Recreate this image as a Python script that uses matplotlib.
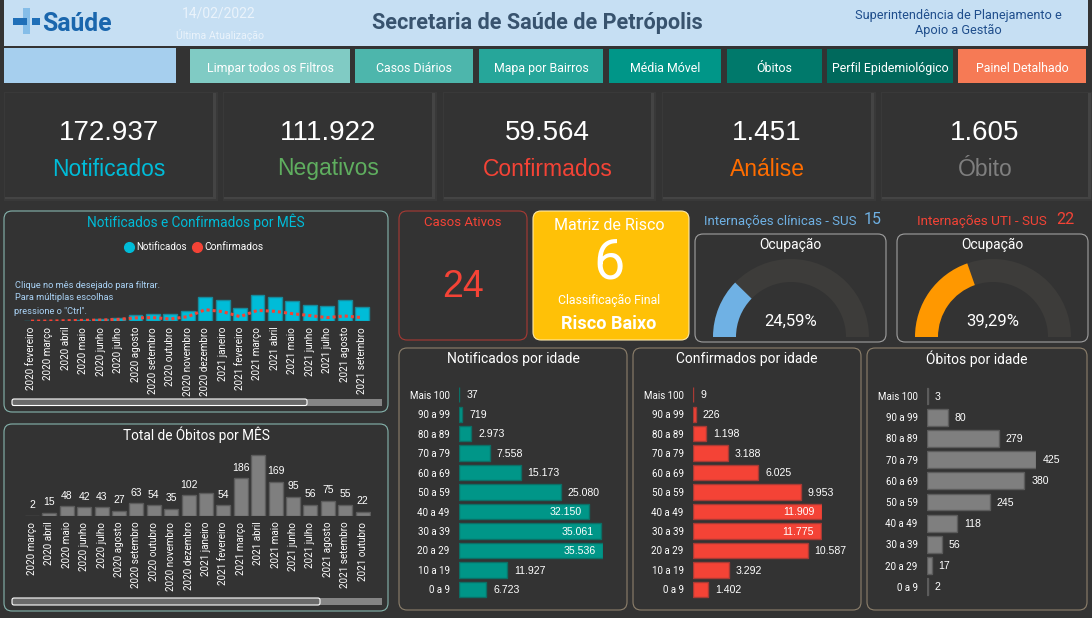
import matplotlib
matplotlib.use("Agg")
import matplotlib.pyplot as plt
from matplotlib.patches import FancyBboxPatch, Rectangle, Wedge

plt.rcParams['font.family'] = ['Roboto', 'DejaVu Sans']

W, H = 1092, 618
BG = '#333333'
ARIAL = ['Liberation Sans', 'DejaVu Sans']

# data
kpi_values = ['172.937', '111.922', '59.564', '1.451', '1.605']
kpi_names = ['Notificados', 'Negativos', 'Confirmados', 'Análise', 'Óbito']
kpi_colors = ['#00bcd8', '#5fae5f', '#f44336', '#ff6d00', '#7f7f7f']

button_labels = ['Limpar todos os Filtros', 'Casos Diários', 'Mapa por Bairros', 'Média Móvel',
                 'Óbitos', 'Perfil Epidemiológico', 'Painel Detalhado']

months_notif = ['2020 fevereiro', '2020 março', '2020 abril', '2020 maio', '2020 junho', '2020 julho',
                '2020 agosto', '2020 setembro', '2020 outubro', '2020 novembro', '2020 dezembro',
                '2021 janeiro', '2021 fevereiro', '2021 março', '2021 abril', '2021 maio', '2021 junho',
                '2021 julho', '2021 agosto', '2021 setembro']
notificados_mes = [100, 150, 500, 1200, 1500, 2400, 4600, 5400, 5100, 7300, 18000, 15600, 9500,
                   19300, 17600, 14600, 12200, 11000, 15400, 10500]
confirmados_mes = [100, 150, 400, 700, 900, 1400, 2500, 2700, 1700, 3400, 8500, 7100, 3400,
                   8000, 7300, 5600, 4200, 2700, 3900, 2700]

months_obitos = ['2020 março', '2020 abril', '2020 maio', '2020 junho', '2020 julho', '2020 agosto',
                 '2020 setembro', '2020 outubro', '2020 novembro', '2020 dezembro', '2021 janeiro',
                 '2021 fevereiro', '2021 março', '2021 abril', '2021 maio', '2021 junho', '2021 julho',
                 '2021 agosto', '2021 setembro', '2021 outubro']
obitos_mes = [2, 15, 48, 42, 43, 27, 63, 54, 35, 102, 113, 54, 186, 301, 169, 95, 56, 75, 55, 22]
obitos_hidden = ['2021 janeiro', '2021 abril']

idades = ['Mais 100', '90 a 99', '80 a 89', '70 a 79', '60 a 69', '50 a 59', '40 a 49', '30 a 39',
          '20 a 29', '10 a 19', '0 a 9']
notif_idade = [37, 719, 2973, 7558, 15173, 25080, 32150, 35061, 35536, 11927, 6723]
conf_idade = [9, 226, 1198, 3188, 6025, 9953, 11909, 11775, 10587, 3292, 1402]
idades_obito = ['Mais 100', '90 a 99', '80 a 89', '70 a 79', '60 a 69', '50 a 59', '40 a 49', '30 a 39',
                '20 a 29', '0 a 9']
obito_idade = [3, 80, 279, 425, 380, 245, 118, 56, 17, 2]

ocupacao_clinica = 24.59
ocupacao_uti = 39.29

fig = plt.figure(figsize=(W / 100, H / 100), dpi=100, facecolor=BG)
bg = fig.add_axes([0, 0, 1, 1])
bg.set_xlim(0, W)
bg.set_ylim(H, 0)
bg.axis('off')


def make_ax(x0, y0, x1, y1):  # axes from pixel box
    ax = fig.add_axes([x0 / W, 1 - y1 / H, (x1 - x0) / W, (y1 - y0) / H])
    ax.patch.set_alpha(0)
    for s in ax.spines.values():
        s.set_visible(False)
    return ax


def box(x0, y0, x1, y1, face='none', edge='none', r=8, lw=0.8, z=1):
    bg.add_patch(FancyBboxPatch((x0 + r, y0 + r), x1 - x0 - 2 * r, y1 - y0 - 2 * r,
                                boxstyle='round,pad=%d,rounding_size=%d' % (r, r),
                                fc=face, ec=edge, lw=lw, zorder=z))


def rect(x0, y0, x1, y1, color, z=1):
    bg.add_patch(Rectangle((x0, y0), x1 - x0, y1 - y0, fc=color, ec='none', zorder=z))


def label(x, y, s, size, color='white', weight='normal', ha='center', va='center', **kw):
    bg.text(x, y, s, fontsize=size, color=color, fontweight=weight, ha=ha, va=va, **kw)


# header
rect(4, 0, 1088, 46, '#c6dff3')
rect(23, 8, 30, 34, '#85bde8', 2)
rect(13, 18, 27, 25, '#1f6fb8', 3)
rect(32, 18, 40, 25, '#1f6fb8', 3)
label(42, 24, 'Saúde', 17.8, '#1a66ad', 'bold', ha='left')
label(219, 13, '14/02/2022', 10, '#eaf3fb')
label(220, 35, 'Última Atualização', 7.6, '#eaf3fb')
label(537, 23, 'Secretaria de Saúde de Petrópolis', 15.6, '#38536e', 'bold')
label(958, 15, 'Superintendência de Planejamento e', 9.2, '#1f4e8c')
label(958, 30, 'Apoio a Gestão', 9.2, '#1f4e8c')

# buttons
rect(4, 48, 176, 83, '#a6cfee')
button_x = [(190, 350), (355, 473), (479, 603), (609, 721), (727, 822), (827, 953), (958, 1086)]
button_colors = ['#80cbc4', '#4db6ac', '#26a69a', '#009688', '#00796b', '#00695c', '#f67a55']
for (x0, x1), c, s in zip(button_x, button_colors, button_labels):
    rect(x0, 49, x1, 83, c)
    label((x0 + x1) / 2, 67, s, 8.9, 'white', va='center_baseline')

# kpi cards
card_x = [(5, 213), (224, 432), (444, 651), (663, 871), (882, 1088)]
for (x0, x1), v, n, c in zip(card_x, kpi_values, kpi_names, kpi_colors):
    rect(x0 - 1, 92, x1 + 5, 201, '#393939')
    rect(x0, 93, x1 + 3, 199, '#444444', 2)
    rect(x0, 93, x1, 197, BG, 3)
    label((x0 + x1) / 2, 133.5, v, 20, 'white', family=ARIAL, zorder=4)
    label((x0 + x1) / 2, 169, n, 16.5, c, family=ARIAL, zorder=4)

# month charts
box(4, 211, 388, 412, edge='#86b5ae')
label(196, 222, 'Notificados e Confirmados por MÊS', 9.8, '#00bcd8')
bg.plot([129], [247], 'o', ms=7, color='#00bcd8')
label(136, 247.5, 'Notificados', 7, 'white', ha='left')
bg.plot([197], [247], 'o', ms=7, color='#f44336')
label(204, 247.5, 'Confirmados', 7.4, 'white', ha='left')
for yy, s, xx in [(285, 'Clique no mês desejado para filtrar.', 15), (298, 'Para múltiplas escolhas', 15),
                  (312, 'pressione o "Ctrl".', 14)]:
    label(xx, yy, s, 6.7, '#a9d2f5', ha='left', zorder=6)

ax = make_ax(22.3, 290, 370.7, 321.3)
ax.bar(range(20), notificados_mes, width=0.8, color='#00bcd8', edgecolor='#178a9c', linewidth=1)
ax.plot(range(20), confirmados_mes, color='#f44336', lw=2.2, ls=(0, (1, 1)))
ax.set_xlim(-0.5, 19.5)
ax.set_ylim(0, 22900)
ax.set_yticks([])
ax.set_xticks(range(20))
ax.set_xticklabels(months_notif, rotation=90, fontsize=7.1, color='white')
ax.tick_params(axis='x', length=0, pad=4)

rect(12, 399, 382, 405.5, '#858585')
box(12, 399, 307, 405.5, face='#6a6a6a', edge='white', r=2, lw=0.8, z=2)

box(4, 424, 388, 611, edge='#86b5ae')
label(196, 435, 'Total de Óbitos por MÊS', 9.8, 'white')
ax = make_ax(23.3, 451, 371.3, 516)
ax.bar(range(20), obitos_mes, width=0.8, color='#7f7f7f', edgecolor='#5c5c5c', linewidth=1)
for i, (m, v) in enumerate(zip(months_obitos, obitos_mes)):
    if m not in obitos_hidden:
        ax.annotate(str(v), (i, v), xytext=(0, 4), textcoords='offset points', ha='center', va='bottom',
                    fontsize=7.5, color='white', family=ARIAL)
ax.set_xlim(-0.5, 19.5)
ax.set_ylim(0, 321)
ax.set_yticks([])
ax.set_xticks(range(20))
ax.set_xticklabels(months_obitos, rotation=90, fontsize=7.1, color='white')
ax.tick_params(axis='x', length=0, pad=4)

rect(12, 598, 382, 605, '#858585')
box(12, 598, 320, 605, face='#6a6a6a', edge='white', r=2, lw=0.8, z=2)

# casos ativos, matriz
box(399, 211, 527, 340, edge='#a83a34')
label(463, 222, 'Casos Ativos', 9.5, '#f44336')
label(463, 287, '24', 27, '#f44336', family=ARIAL)
box(533, 211, 689, 340, face='#ffc107', edge='#ffe9a8')
label(609, 225, 'Matriz de Risco', 11.5, 'white')
label(609, 263, '6', 40, 'white')
label(609, 300, 'Classificação Final', 8.8, 'white')
label(609, 324, 'Risco Baixo', 13, 'white', 'bold')

# gauges
label(780, 221, 'Internações clínicas - SUS', 9.5, '#6fb1e4')
label(873, 220, '15', 11.5, '#6fb1e4')
label(982, 221, 'Internações UTI - SUS', 9.7, '#f44336')
label(1065, 220, '22', 11.5, '#f44336')
for x0, x1, cx, pct, color in [(695, 886, 791, ocupacao_clinica, '#6fb1e4'),
                               (897, 1088, 993, ocupacao_uti, '#ff9800')]:
    box(x0, 234, x1, 342, edge='#a0a0a0')
    label((x0 + x1) / 2, 245, 'Ocupação', 10, 'white')
    ax = make_ax(cx - 80, 257, cx + 80, 337)
    ax.set_xlim(-80, 80)
    ax.set_ylim(0, 80)
    ax.axis('off')
    ax.add_patch(Wedge((0, 0), 78, 0, 180, width=23, fc='#3d3c3a', ec='none'))
    ax.add_patch(Wedge((0, 0), 78, 180 - pct * 1.8, 180, width=23, fc=color, ec='none'))
    label(cx, 321, ('%.2f%%' % pct).replace('.', ','), 12, 'white')


# age charts
def age_chart(px, x0, vmax_px, top, step, bar_h, cats, vals, color, edge, inside, fs=7.6):
    box(*px, edge='#8d806c')
    n = len(vals)
    y0 = top - step / 2
    y1 = top + step * (n - 0.5)
    ax = make_ax(x0, y0, x0 + vmax_px, y1)
    ax.barh(range(n), vals, height=bar_h / step, color=color, edgecolor=edge, linewidth=1)
    m = max(vals)
    for i, v in enumerate(vals):
        s = f'{v:,}'.replace(',', '.')
        if v in inside:
            ax.annotate(s, (v, i), xytext=(-5, -0.5), textcoords='offset points', ha='right', va='center',
                        fontsize=fs, color='white', family=ARIAL)
        else:
            ax.annotate(s, (v, i), xytext=(5, -0.5), textcoords='offset points', ha='left', va='center',
                        fontsize=fs, color='white', family=ARIAL)
    ax.set_xlim(0, m)
    ax.set_ylim(n - 0.5, -0.5)
    ax.set_xticks([])
    ax.set_yticks(range(n))
    ax.set_yticklabels(cats, fontsize=7, color='white')
    ax.tick_params(axis='y', length=0, pad=7)
    ax.patch.set_alpha(0)


label(513, 359, 'Notificados por idade', 10, 'white')
age_chart((399, 348, 627, 610), 459.3, 143.4, 394.7, 19.47, 15.3, idades, notif_idade, '#009688', '#0b6f66',
          [32150, 35061, 35536])
label(747, 359, 'Confirmados por idade', 10, 'white')
age_chart((633, 348, 861, 610), 693.3, 128.7, 394.7, 19.47, 15.3, idades, conf_idade, '#f44336', '#a83a34',
          [11909, 11775])
label(977, 359, 'Óbitos por idade', 10, 'white')
age_chart((867, 348, 1087, 610), 927.3, 108.7, 396, 21.2, 16.7, idades_obito, obito_idade, '#7f7f7f', '#5c5c5c',
          [])

fig.savefig('out.png', dpi=100, facecolor=BG)
